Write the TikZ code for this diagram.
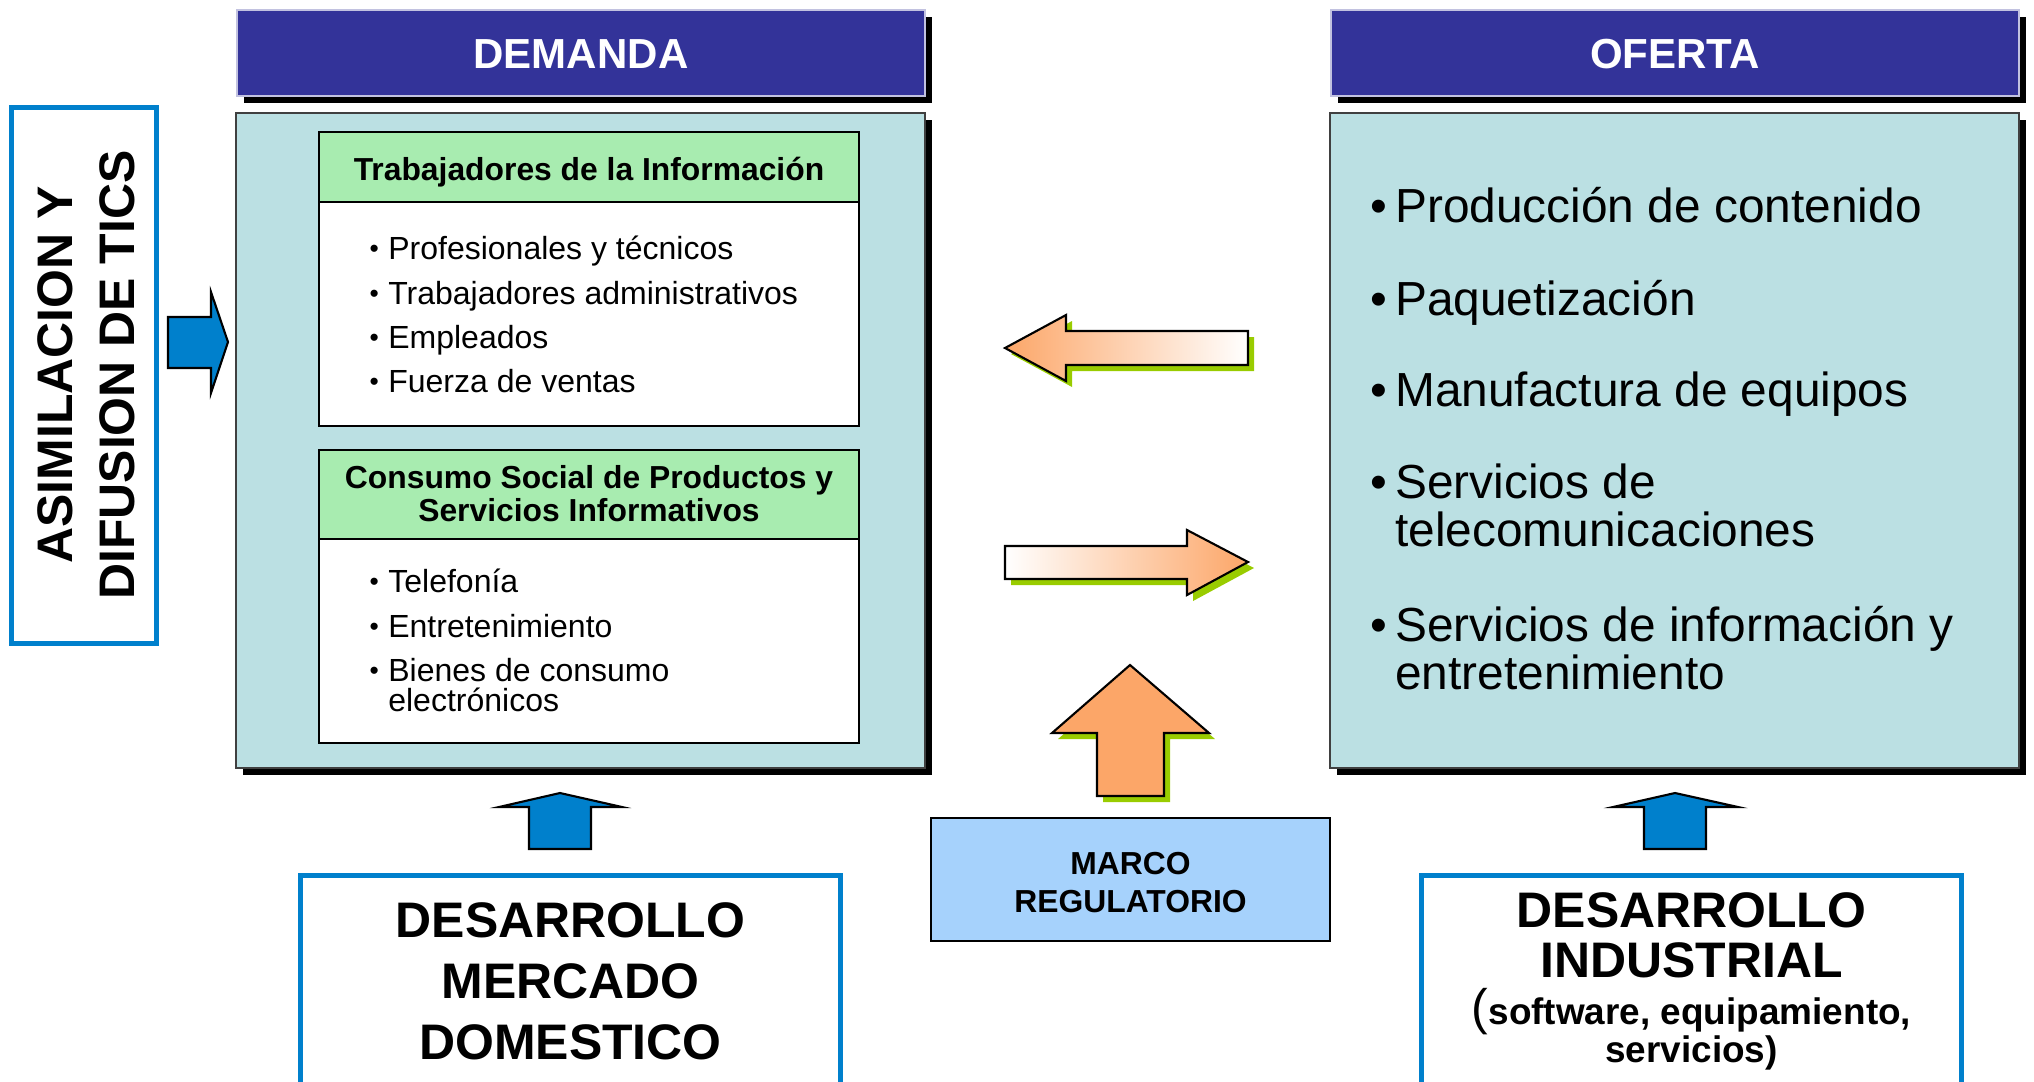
\documentclass[tikz,border=0pt]{standalone}
\usepackage{fontspec}
\setmainfont{Liberation Sans}
\usetikzlibrary{positioning}
\definecolor{hdrblue}{RGB}{51,51,153}
\definecolor{panelteal}{RGB}{187,224,227}
\definecolor{hdrgreen}{RGB}{168,236,176}
\definecolor{ticblue}{RGB}{0,128,204}
\definecolor{marcoblue}{RGB}{166,210,252}
\definecolor{arroworange}{RGB}{252,166,104}
\definecolor{shadegreen}{RGB}{153,204,0}
\tikzstyle{shadowbox} = [fill=black]
\tikzstyle{hdrbox} = [fill=hdrblue,draw=white!70!hdrblue,line width=0.5pt]
\tikzstyle{panel} = [fill=panelteal,draw=black!75,line width=0.5pt]
\tikzstyle{greenhdr} = [fill=hdrgreen,draw=black,line width=0.6pt]
\tikzstyle{whitebody} = [fill=white,draw=black,line width=0.6pt]
\tikzstyle{bluebox} = [fill=white,draw=ticblue,line width=1.45pt]
\tikzstyle{marcobox} = [fill=marcoblue,draw=black,line width=0.6pt]
\tikzstyle{bluearrow} = [fill=ticblue,draw=black,line width=0.6pt]
\tikzstyle{flatarrow} = [draw=black,line width=0.6pt]
\tikzstyle{hdrtext} = [text=white,inner sep=0pt,anchor=base,font=\fontsize{11.95}{14}\selectfont\bfseries]
\tikzstyle{boxtitle} = [inner sep=0pt,anchor=base,font=\fontsize{9.05}{10}\selectfont\bfseries]
\tikzstyle{listtext} = [inner sep=0pt,anchor=base west,font=\fontsize{9.1}{10}\selectfont]
\tikzstyle{offertext} = [inner sep=0pt,anchor=base west,font=\fontsize{13.6}{15}\selectfont]
\tikzstyle{bigtext} = [inner sep=0pt,anchor=base,font=\fontsize{14.2}{16}\selectfont\bfseries]
\tikzstyle{softtext} = [inner sep=0pt,anchor=base,font=\fontsize{10.5}{12}\selectfont\bfseries]
\newcommand{\smallblt}{\makebox[5.3pt][l]{\raisebox{0.5pt}{\fontsize{7.5}{8}\selectfont •}}}
\newcommand{\bigblt}{\makebox[7pt][l]{•}}

\begin{document}
\begin{tikzpicture}[x=0.01cm,y=-0.01cm]
    \useasboundingbox (0,0) rectangle (2034,1081);
    \clip (0,0) rectangle (2034,1081);

    % demanda side
    \fill [shadowbox] (244,17) rectangle (932,103);
    \draw [hdrbox] (237,10) rectangle (925,96);
    \node [hdrtext] (demanda) at (581,68) {DEMANDA};
    \fill [shadowbox] (243,120) rectangle (932,775);
    \draw [panel] (236,113) rectangle (925,768);

    \draw [greenhdr] (319,132) rectangle (859,202);
    \draw [whitebody] (319,202) rectangle (859,426);
    \node [boxtitle] (trab) at (589,180) {Trabajadores de la Información};
    \node [listtext] (trab1) at (369,259) {\smallblt Profesionales y técnicos};
    \node [listtext] (trab2) at (369,304) {\smallblt Trabajadores administrativos};
    \node [listtext] (trab3) at (369,348) {\smallblt Empleados};
    \node [listtext] (trab4) at (369,392) {\smallblt Fuerza de ventas};

    \draw [greenhdr] (319,450) rectangle (859,539);
    \draw [whitebody] (319,539) rectangle (859,743);
    \node [boxtitle] (cons) at (589,488) {Consumo Social de Productos y};
    \node [boxtitle] (consb) at (589,521) {Servicios Informativos};
    \node [listtext] (cons1) at (369,592) {\smallblt Telefonía};
    \node [listtext] (cons2) at (369,637) {\smallblt Entretenimiento};
    \node [listtext] (cons3) at (369,681) {\smallblt Bienes de consumo};
    \node [listtext] (cons3b) at (369,711) {\phantom{\smallblt}electrónicos};

    % oferta side
    \fill [shadowbox] (1338,17) rectangle (2026,103);
    \draw [hdrbox] (1331,10) rectangle (2019,96);
    \node [hdrtext] (oferta) at (1675,68) {OFERTA};
    \fill [shadowbox] (1337,120) rectangle (2026,775);
    \draw [panel] (1330,113) rectangle (2019,768);

    \node [offertext] (of1) at (1370,222) {\bigblt Producción de contenido};
    \node [offertext] (of2) at (1370,315) {\bigblt Paquetización};
    \node [offertext] (of3) at (1370,406) {\bigblt Manufactura de equipos};
    \node [offertext] (of4) at (1370,498) {\bigblt Servicios de};
    \node [offertext] (of4b) at (1370,546) {\phantom{\bigblt}telecomunicaciones};
    \node [offertext] (of5) at (1370,641) {\bigblt Servicios de información y};
    \node [offertext] (of5b) at (1370,689) {\phantom{\bigblt}entretenimiento};

    % asimilacion
    \draw [bluebox] (11.5,107.5) rectangle (156.5,643.5);
    \node [bigtext,rotate=90] (asim) at (72,375) {ASIMILACION Y};
    \node [bigtext,rotate=90] (difus) at (134,375) {DIFUSION DE TICS};
    \draw [bluearrow] (168,317) -- (211,317) -- (211,292) -- (228,342) -- (211,393) -- (211,368) -- (168,368) -- cycle;

    % flechas centrales
    \fill [shadegreen,shift={(6,6)}] (1005,348) -- (1066,315) -- (1066,331) -- (1248,331) -- (1248,365) -- (1066,365) -- (1066,381) -- cycle;
    \draw [flatarrow,left color=arroworange,right color=white] (1005,348) -- (1066,315) -- (1066,331) -- (1248,331) -- (1248,365) -- (1066,365) -- (1066,381) -- cycle;

    \fill [shadegreen,shift={(6,6)}] (1005,546) -- (1187,546) -- (1187,530) -- (1248,562) -- (1187,595) -- (1187,579) -- (1005,579) -- cycle;
    \draw [flatarrow,left color=white,right color=arroworange] (1005,546) -- (1187,546) -- (1187,530) -- (1248,562) -- (1187,595) -- (1187,579) -- (1005,579) -- cycle;

    \fill [shadegreen,shift={(6,6)}] (1130,665) -- (1209,733) -- (1164,733) -- (1164,796) -- (1097,796) -- (1097,733) -- (1052,733) -- cycle;
    \draw [flatarrow,fill=arroworange] (1130,665) -- (1209,733) -- (1164,733) -- (1164,796) -- (1097,796) -- (1097,733) -- (1052,733) -- cycle;

    % marco regulatorio
    \draw [marcobox] (931,818) rectangle (1330,941);
    \node [boxtitle] (marco) at (1130.5,874) {MARCO};
    \node [boxtitle] (regul) at (1130.5,912) {REGULATORIO};

    % desarrollo
    \draw [bluearrow] (560,793) -- (622,807) -- (591,807) -- (591,849) -- (529,849) -- (529,807) -- (499,807) -- cycle;
    \draw [bluebox] (300.5,875.5) rectangle (840.5,1100);
    \node [bigtext] (merc1) at (570.5,937) {DESARROLLO};
    \node [bigtext] (merc2) at (570.5,998) {MERCADO};
    \node [bigtext] (merc3) at (570.5,1059) {DOMESTICO};

    \draw [bluearrow] (1675,793) -- (1738,807) -- (1706,807) -- (1706,849) -- (1644,849) -- (1644,807) -- (1613,807) -- cycle;
    \draw [bluebox] (1421.5,875.5) rectangle (1961.5,1100);
    \node [bigtext] (ind1) at (1691.5,927) {DESARROLLO};
    \node [bigtext] (ind2) at (1691.5,977) {INDUSTRIAL};
    \node [softtext] (ind3) at (1691.5,1024) {{\fontsize{14.2}{16}\selectfont\mdseries(}software, equipamiento,};
    \node [softtext] (ind4) at (1691.5,1062) {servicios)};
\end{tikzpicture}
\end{document}
